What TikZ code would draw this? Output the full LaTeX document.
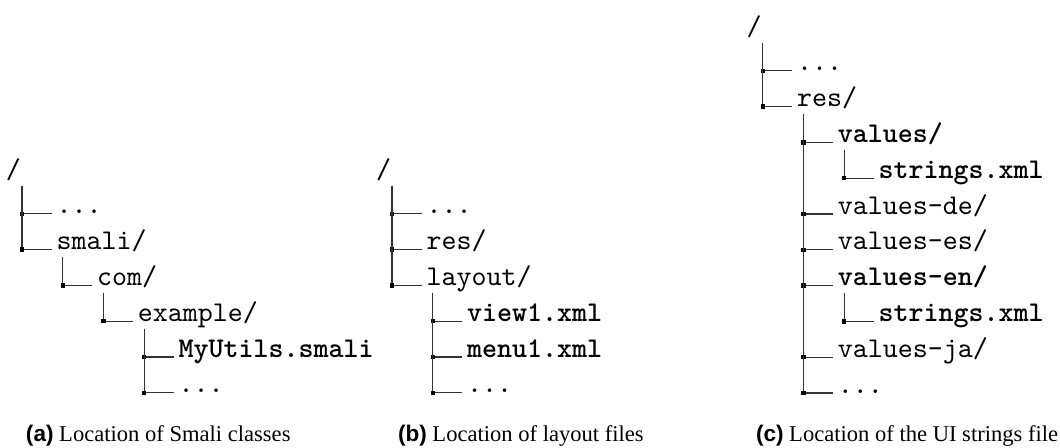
\documentclass[tikz,border=0pt]{standalone}
\usepackage{fontspec}
\setmainfont{Liberation Serif}
\newfontfamily\capsans{Liberation Sans}
\usetikzlibrary{calc}
\newcommand\treeedge[3]{\draw[branch] ($(#1.base west)+(#3,7.5)$) |- node[knot,pos=0.5]{} ($(#2.base west)+(-5,0)$);}
\tikzset{
  entry/.style={anchor=base west, inner sep=0pt, outer sep=0pt, font=\fontsize{10}{12}\selectfont\ttfamily},
  hl/.style={entry, font=\fontsize{10}{12}\selectfont\ttfamily\bfseries},
  branch/.style={line width=0.4pt, draw=black!80},
  knot/.style={rectangle, fill=black, minimum size=1.5pt, inner sep=0pt, outer sep=0pt},
  subcap/.style={anchor=base west, inner sep=0pt, outer sep=0pt, font=\fontsize{7.9}{9.5}\selectfont}
}
\begin{document}
\begin{tikzpicture}[x=0.35pt, y=-0.35pt]
\useasboundingbox (0,0) rectangle (1060,447);
% panel (a)
\node[entry] (ar) at (6,178.2) {/};
\node[entry] (a1) at (56.5,213.8) {...};
\node[entry] (a2) at (56.5,249.6) {smali/};
\node[entry] (a3) at (97.2,285.4) {com/};
\node[entry] (a4) at (137.9,321.2) {example/};
\node[hl] (a5) at (178.6,357) {MyUtils.smali};
\node[entry] (a6) at (178.6,392.8) {...};
\treeedge{ar}{a1}{16}
\treeedge{ar}{a2}{16}
\treeedge{a2}{a3}{6.2}
\treeedge{a3}{a4}{6.2}
\treeedge{a4}{a5}{6.2}
\treeedge{a4}{a6}{6.2}
% panel (b)
\node[entry] (br) at (376,178.2) {/};
\node[entry] (b1) at (426.5,213.8) {...};
\node[entry] (b2) at (426.5,249.6) {res/};
\node[entry] (b3) at (426.5,285.4) {layout/};
\node[hl] (b4) at (467.2,321.2) {view1.xml};
\node[hl] (b5) at (467.2,357) {menu1.xml};
\node[entry] (b6) at (467.2,392.8) {...};
\treeedge{br}{b1}{16}
\treeedge{br}{b2}{16}
\treeedge{br}{b3}{16}
\treeedge{b3}{b4}{6.2}
\treeedge{b3}{b5}{6.2}
\treeedge{b3}{b6}{6.2}
% panel (c)
\node[entry] (cr) at (746.7,35) {/};
\node[entry] (c1) at (797.2,70.8) {...};
\node[entry] (c2) at (797.2,106.6) {res/};
\node[hl] (c3) at (837.9,142.4) {values/};
\node[hl] (c4) at (878.6,178.2) {strings.xml};
\node[entry] (c5) at (837.9,214) {values-de/};
\node[entry] (c6) at (837.9,249.8) {values-es/};
\node[hl] (c7) at (837.9,285.6) {values-en/};
\node[hl] (c8) at (878.6,321.4) {strings.xml};
\node[entry] (c9) at (837.9,357.2) {values-ja/};
\node[entry] (c10) at (837.9,393) {...};
\treeedge{cr}{c1}{16}
\treeedge{cr}{c2}{16}
\treeedge{c2}{c3}{6.2}
\treeedge{c2}{c5}{6.2}
\treeedge{c2}{c6}{6.2}
\treeedge{c2}{c7}{6.2}
\treeedge{c2}{c9}{6.2}
\treeedge{c2}{c10}{6.2}
\treeedge{c3}{c4}{6.2}
\treeedge{c7}{c8}{6.2}
% captions
\node[subcap] (capa) at (26,441) {{\capsans\bfseries (a)} Location of Smali classes};
\node[subcap] (capb) at (398,441) {{\capsans\bfseries (b)} Location of layout files};
\node[subcap] (capc) at (756,441) {{\capsans\bfseries (c)} Location of the UI strings file};
\end{tikzpicture}
\end{document}
